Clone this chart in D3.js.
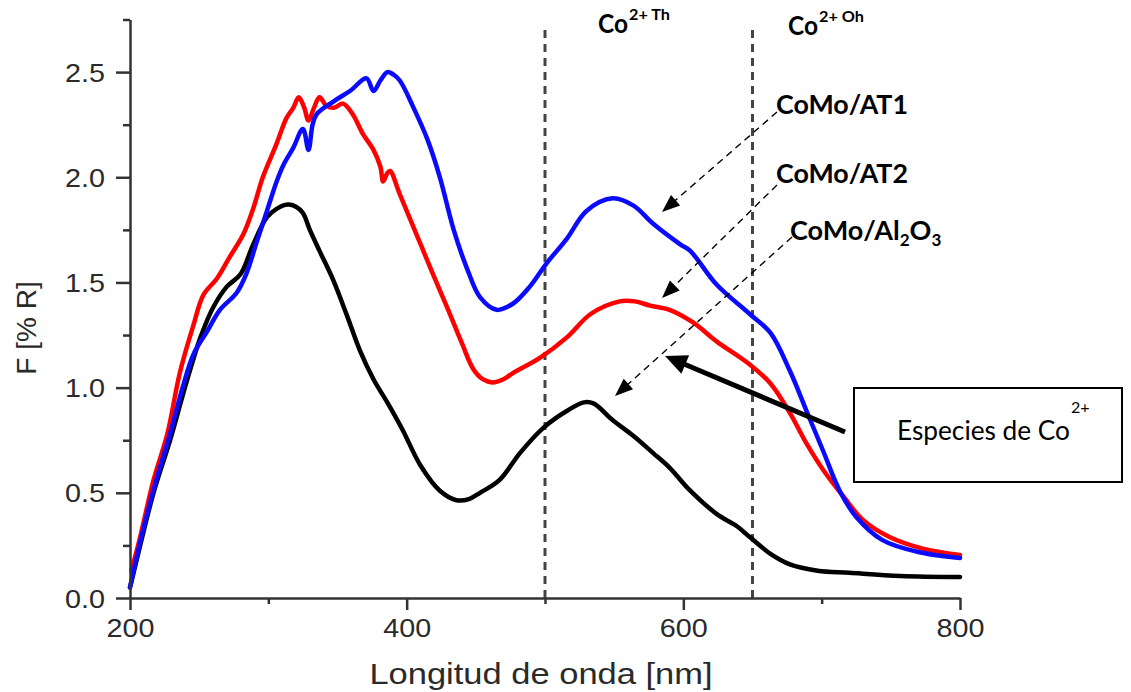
<!DOCTYPE html>
<html><head><meta charset="utf-8">
<script src="https://cdn.jsdelivr.net/npm/d3@7"></script>
<style>body{margin:0;background:#fff}</style>
</head><body><svg id="c" width="1131" height="692" xmlns="http://www.w3.org/2000/svg"></svg>
<script>
// ---------- data ----------
const wlAl2O3 = [200,207,217,229,241,251,260,270,280,289,299,306,314,320,325,330,337,347,357,366,376,386,397,410,424,436,445,453,467,482,499,516,528,535,549,564,578,590,605,624,639,648,663,677,697,720,757,800];
const fAl2O3  = [0.05,0.24,0.50,0.75,1.03,1.24,1.38,1.48,1.54,1.68,1.81,1.85,1.87,1.86,1.83,1.75,1.65,1.51,1.34,1.18,1.04,0.93,0.80,0.63,0.51,0.465,0.47,0.50,0.56,0.69,0.81,0.89,0.93,0.925,0.845,0.77,0.69,0.62,0.51,0.40,0.34,0.29,0.21,0.16,0.13,0.12,0.105,0.10];

const wlAT2 = [201,207,217,227,236,246,253,263,272,282,289,296,306,313,318,322,326,329,333,337,342,347,354,361,368,376,381,383,386,388,395,407,419,430,440,448,455,462,470,477,496,516,533,554,565,576,590,607,624,648,663,677,689,701,716,730,749,773,800];
const fAT2  = [0.13,0.28,0.56,0.78,1.07,1.30,1.44,1.52,1.62,1.73,1.85,2.00,2.16,2.28,2.33,2.38,2.33,2.27,2.33,2.38,2.34,2.33,2.35,2.30,2.21,2.13,2.05,1.98,2.02,2.03,1.92,1.73,1.54,1.37,1.21,1.09,1.04,1.025,1.04,1.07,1.14,1.24,1.35,1.41,1.41,1.39,1.37,1.31,1.22,1.11,1.02,0.88,0.735,0.61,0.48,0.37,0.29,0.235,0.205];

const wlAT1 = [200,209,219,229,238,246,256,265,277,284,292,299,306,311,318,325,329,332,335,347,359,371,376,381,386,390,395,405,415,424,434,444,453,465,477,489,501,516,530,549,564,578,598,605,624,648,663,677,689,701,713,725,744,769,800];
const fAT1  = [0.05,0.31,0.56,0.78,1.00,1.16,1.27,1.37,1.45,1.54,1.70,1.84,1.98,2.06,2.14,2.23,2.13,2.25,2.30,2.36,2.41,2.47,2.41,2.46,2.50,2.49,2.46,2.33,2.18,2.00,1.75,1.56,1.43,1.37,1.40,1.48,1.59,1.71,1.84,1.90,1.865,1.78,1.68,1.65,1.49,1.35,1.26,1.08,0.89,0.70,0.51,0.385,0.275,0.22,0.19];

const xTicks = [200,400,600,800];
const xMinorTicks = [300,500,700];
const yTicks = [0.0,0.5,1.0,1.5,2.0,2.5];
const yMinorTicks = [0.25,0.75,1.25,1.75,2.25,2.75];
const bandLines = [500,650];
const xTitle = "Longitud de onda [nm]";
const yTitle = "F [% R]";

// ---------- drawing ----------
const svg = d3.select("#c");
svg.append("rect").attr("width",1131).attr("height",692).attr("fill","#fff");

const x = d3.scaleLinear().domain([200,800]).range([130,960]);
const y = d3.scaleLinear().domain([0,2.75]).range([598,19.5]);
const axisColor = "#333";

// band (dashed vertical) lines
svg.selectAll("line.band").data(bandLines).join("line")
  .attr("x1",d=>x(d)).attr("x2",d=>x(d)).attr("y1",30).attr("y2",y(0))
  .attr("stroke","#444").attr("stroke-width",3).attr("stroke-dasharray","8,6");

// series lines
const line = d3.line().x(d=>x(d[0])).y(d=>y(d[1])).curve(d3.curveCatmullRom.alpha(0.5));
const series = [
  {w:wlAl2O3, f:fAl2O3, c:"#000000"},
  {w:wlAT2, f:fAT2, c:"#ff0000"},
  {w:wlAT1, f:fAT1, c:"#0a0aff"}
];
series.forEach(s=>{
  svg.append("path").datum(s.w.map((w,i)=>[w,s.f[i]]))
    .attr("d",line).attr("fill","none").attr("stroke",s.c)
    .attr("stroke-width",4.5).attr("stroke-linejoin","round").attr("stroke-linecap","round");
});

// axes
const gx = svg.append("g").attr("transform",`translate(0,${y(0)})`);
gx.call(d3.axisBottom(x).tickValues(xTicks).tickSize(12).tickSizeOuter(0).tickFormat(d3.format("d")));
const gxm = svg.append("g").attr("transform",`translate(0,${y(0)})`);
gxm.call(d3.axisBottom(x).tickValues(xMinorTicks).tickSize(6).tickSizeOuter(0).tickFormat(""));
const gy = svg.append("g").attr("transform",`translate(${x(200)},0)`);
gy.call(d3.axisLeft(y).tickValues(yTicks).tickSize(14).tickSizeOuter(0).tickFormat(d3.format(".1f")));
const gym = svg.append("g").attr("transform",`translate(${x(200)},0)`);
gym.call(d3.axisLeft(y).tickValues(yMinorTicks).tickSize(7).tickSizeOuter(0).tickFormat(""));
gym.select(".domain").remove(); gxm.select(".domain").remove();

[gx,gxm,gy,gym].forEach(g=>{
  g.selectAll(".domain").attr("stroke",axisColor).attr("stroke-width",2.5);
  g.selectAll(".tick line").attr("stroke",axisColor).attr("stroke-width",2.5);
});
gx.selectAll(".tick text")
  .attr("y",0).attr("dy",0)
  .attr("transform","translate(0,39) scale(1.15,1)")
  .attr("font-family","Liberation Sans, Arial, sans-serif").attr("font-size",25).attr("fill","#2a2a2a");
gy.selectAll(".tick text")
  .attr("x",0).attr("dy","0.36em").attr("text-anchor","end")
  .attr("transform","translate(-25,0) scale(1.15,1)")
  .attr("font-family","Liberation Sans, Arial, sans-serif").attr("font-size",25).attr("fill","#2a2a2a");

// axis titles
svg.append("text").attr("transform","translate(541,684) scale(1.15,1)")
  .attr("text-anchor","middle").attr("font-family","Liberation Sans, Arial, sans-serif")
  .attr("font-size",30).attr("fill","#2a2a2a").text(xTitle);
svg.append("text").attr("transform","translate(36,328) rotate(-90)")
  .attr("text-anchor","middle").attr("font-family","Liberation Sans, Arial, sans-serif")
  .attr("font-size",28).attr("fill","#2a2a2a").text(yTitle);

// annotation texts
const cal = "Lato, 'Open Sans', sans-serif";
function coLabel(xp, yp, sup, supLen){
  svg.append("text").attr("x",xp).attr("y",yp).attr("font-family",cal).attr("font-weight","bold")
    .attr("font-size",26).attr("fill","#000").attr("textLength",30).attr("lengthAdjust","spacingAndGlyphs").text("Co");
  svg.append("text").attr("x",xp+31).attr("y",yp-13).attr("font-family",cal).attr("font-weight","bold")
    .attr("font-size",15).attr("fill","#000").attr("textLength",supLen).attr("lengthAdjust","spacingAndGlyphs").text(sup);
}
coLabel(598,33,"2+ Th",41);
coLabel(788,35,"2+ Oh",45);

svg.append("text").attr("x",776).attr("y",114).attr("font-family",cal).attr("font-weight","bold")
  .attr("font-size",27).attr("textLength",132).attr("lengthAdjust","spacingAndGlyphs").text("CoMo/AT1");
svg.append("text").attr("x",776).attr("y",183).attr("font-family",cal).attr("font-weight","bold")
  .attr("font-size",27).attr("textLength",132).attr("lengthAdjust","spacingAndGlyphs").text("CoMo/AT2");
const t3 = svg.append("text").attr("x",790).attr("y",240).attr("font-family",cal).attr("font-weight","bold").attr("font-size",27);
t3.append("tspan").text("CoMo/Al");
t3.append("tspan").attr("font-size",17).attr("dy",6).text("2");
t3.append("tspan").attr("dy",-6).text("O");
t3.append("tspan").attr("font-size",17).attr("dy",6).text("3");

// box
svg.append("rect").attr("x",854).attr("y",388).attr("width",268).attr("height",94)
  .attr("fill","#fff").attr("stroke","#000").attr("stroke-width",2);
svg.append("text").attr("x",897).attr("y",440).attr("font-family",cal).attr("font-size",27)
  .attr("textLength",173).attr("lengthAdjust","spacingAndGlyphs").text("Especies de Co");
svg.append("text").attr("x",1071).attr("y",413).attr("font-family",cal).attr("font-size",16).text("2+");

// arrows
function arrow(x1,y1,x2,y2,opts){
  const ang = Math.atan2(y2-y1,x2-x1);
  const L = opts.headL, W = opts.headW;
  const bx = x2 - L*Math.cos(ang), by = y2 - L*Math.sin(ang);
  svg.append("line").attr("x1",x1).attr("y1",y1).attr("x2",bx+2*Math.cos(ang)).attr("y2",by+2*Math.sin(ang))
    .attr("stroke","#000").attr("stroke-width",opts.w).attr("stroke-dasharray",opts.dash||null);
  const px = -Math.sin(ang)*W/2, py = Math.cos(ang)*W/2;
  svg.append("polygon").attr("points",`${x2},${y2} ${bx+px},${by+py} ${bx-px},${by-py}`).attr("fill","#000");
}
arrow(777,112,662,212,{w:1.4,dash:"7,5",headL:18,headW:14});
arrow(777,185,662,298,{w:1.4,dash:"7,5",headL:18,headW:14});
arrow(792,237,615,396,{w:1.4,dash:"7,5",headL:18,headW:14});
arrow(845,432,665,356,{w:5,headL:22,headW:20});
</script></body></html>
